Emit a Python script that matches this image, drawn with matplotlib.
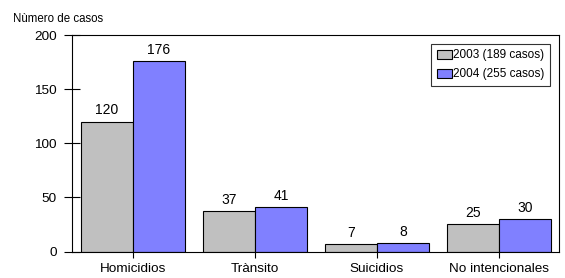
import matplotlib
matplotlib.use('Agg')
import matplotlib.pyplot as plt
import numpy as np

plt.rcParams['font.family'] = ['Liberation Sans', 'DejaVu Sans']

categories = ['Homicidios', 'Trànsito', 'Suicidios', 'No intencionales']
casos_2003 = [120, 37, 7, 25]
casos_2004 = [176, 41, 8, 30]
labels = ['2003 (189 casos)', '2004 (255 casos)']
gray = '#c0c0c0'
blue = '#8080ff'

fig = plt.figure(figsize=(5.65, 2.78), dpi=100)
ax = fig.add_axes([0.127, 0.0953, 0.8624, 0.7787])

x = np.arange(len(categories))
w = 0.426
b1 = ax.bar(x - w / 2, casos_2003, w, color=gray, edgecolor='black', linewidth=0.8, label=labels[0])
b2 = ax.bar(x + w / 2, casos_2004, w, color=blue, edgecolor='black', linewidth=0.8, label=labels[1])

for bars in (b1, b2):
    ax.bar_label(bars, padding=3, fontsize=10)

ax.set_xlim(-0.5, 3.49)
ax.set_ylim(0, 200)
ax.set_yticks([0, 50, 100, 150, 200])
ax.set_xticks(x)
ax.set_xticklabels(categories, fontsize=9.7)
ax.tick_params(axis='y', direction='inout', length=11.5, width=0.8, labelsize=9.7, pad=5)
ax.tick_params(axis='x', direction='out', length=4, width=0.8, pad=4)
for s in ax.spines.values():
    s.set_linewidth(0.8)

leg = ax.legend(loc='upper right', fontsize=8.5, frameon=True, fancybox=False,
                edgecolor='black', handlelength=1.27, handleheight=0.8,
                handletextpad=0.15, labelspacing=0.6, borderpad=0.45,
                borderaxespad=0.75)
leg.get_frame().set_linewidth(0.8)

fig.text(13 / 565, 1 - 22 / 278, 'Nùmero de casos', fontsize=8.3, ha='left', va='baseline')

fig.savefig('out.png', dpi=100)
